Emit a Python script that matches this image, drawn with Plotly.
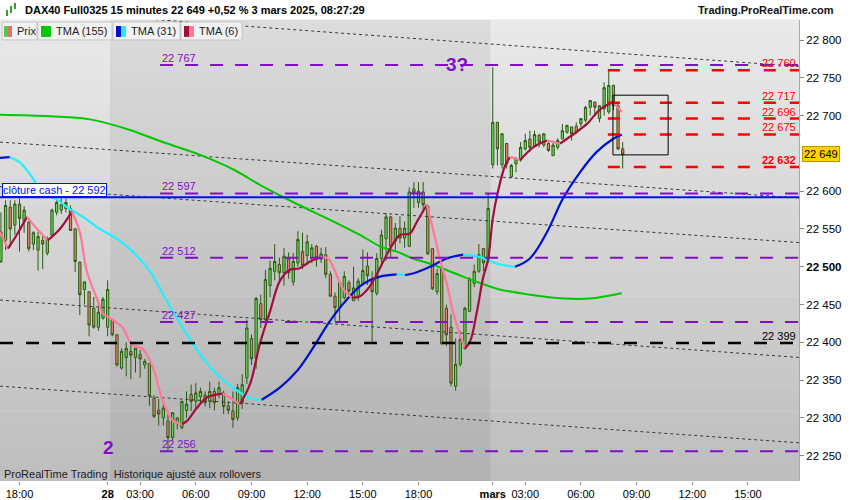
import plotly.graph_objects as go

# 15-minute bars, index 0 = Thu 27 Feb 17:00, index 106 = Mon 3 Mar 01:15
opens = [22507, 22535, 22579, 22555, 22583, 22560, 22559, 22530, 22522, 22535,
         22518, 22542, 22572, 22575, 22577, 22577, 22550, 22506, 22470, 22467,
         22445, 22420, 22432, 22420, 22430, 22410, 22366, 22380, 22388, 22380,
         22384, 22370, 22372, 22326, 22310, 22300, 22296, 22274, 22293, 22287,
         22310, 22331, 22322, 22328, 22330, 22322, 22335, 22331, 22332, 22316,
         22309, 22300, 22320, 22353, 22405, 22379, 22451, 22430, 22475, 22494,
         22503, 22492, 22510, 22480, 22505, 22520, 22515, 22512, 22527, 22510,
         22516, 22490, 22461, 22446, 22459, 22479, 22455, 22460, 22478, 22501,
         22480, 22465, 22511, 22537, 22566, 22534, 22551, 22538, 22527, 22603,
         22585, 22599, 22580, 22524, 22467, 22497, 22445, 22420, 22342, 22371,
         22392, 22441, 22478, 22494, 22524, 22510, 22635, 22691, 22635, 22663,
         22619, 22636, 22643, 22656, 22669, 22660, 22674, 22661, 22663, 22647,
         22658, 22669, 22678, 22685, 22686, 22689, 22694, 22711, 22718, 22696,
         22709, 22705, 22740, 22713, 22656]
highs = [22572, 22588, 22588, 22588, 22590, 22580, 22560, 22547, 22546, 22543,
         22540, 22577, 22588, 22598, 22590, 22581, 22551, 22507, 22480, 22467,
         22460, 22450, 22460, 22482, 22430, 22410, 22392, 22400, 22401, 22392,
         22390, 22378, 22372, 22330, 22325, 22318, 22309, 22307, 22300, 22322,
         22335, 22344, 22346, 22340, 22335, 22348, 22340, 22348, 22336, 22322,
         22335, 22345, 22358, 22430, 22410, 22460, 22463, 22496, 22508, 22530,
         22512, 22525, 22519, 22518, 22547, 22545, 22542, 22530, 22529, 22525,
         22526, 22494, 22466, 22481, 22494, 22482, 22500, 22485, 22523, 22519,
         22494, 22518, 22549, 22571, 22567, 22558, 22567, 22560, 22605, 22612,
         22612, 22612, 22582, 22524, 22497, 22498, 22450, 22437, 22405, 22415,
         22447, 22486, 22503, 22530, 22525, 22597, 22764, 22692, 22676, 22664,
         22636, 22645, 22665, 22676, 22680, 22680, 22676, 22676, 22665, 22667,
         22670, 22689, 22688, 22685, 22691, 22696, 22713, 22720, 22718, 22714,
         22744, 22760, 22741, 22716, 22665]
lows = [22505, 22522, 22526, 22542, 22520, 22545, 22520, 22522, 22495, 22497,
        22515, 22540, 22568, 22570, 22572, 22548, 22493, 22436, 22450, 22408,
        22418, 22415, 22430, 22408, 22408, 22368, 22364, 22355, 22351, 22360,
        22353, 22365, 22316, 22300, 22290, 22290, 22257, 22270, 22285, 22285,
        22300, 22309, 22313, 22320, 22315, 22313, 22310, 22326, 22305, 22305,
        22287, 22296, 22312, 22345, 22370, 22365, 22419, 22425, 22460, 22482,
        22480, 22475, 22484, 22475, 22500, 22497, 22502, 22505, 22500, 22505,
        22485, 22461, 22428, 22428, 22457, 22462, 22455, 22455, 22476, 22476,
        22401, 22462, 22505, 22508, 22512, 22520, 22531, 22525, 22527, 22578,
        22578, 22573, 22516, 22469, 22463, 22397, 22395, 22342, 22336, 22368,
        22390, 22440, 22473, 22492, 22494, 22505, 22630, 22634, 22630, 22630,
        22618, 22625, 22639, 22654, 22652, 22658, 22658, 22658, 22652, 22647,
        22655, 22669, 22676, 22667, 22676, 22685, 22691, 22700, 22700, 22691,
        22700, 22702, 22707, 22654, 22630]
closes = [22546, 22581, 22550, 22583, 22564, 22575, 22524, 22545, 22540, 22530,
          22537, 22575, 22585, 22582, 22585, 22548, 22507, 22463, 22480, 22423,
          22420, 22440, 22457, 22470, 22410, 22370, 22388, 22392, 22383, 22392,
          22378, 22375, 22329, 22302, 22305, 22313, 22274, 22307, 22300, 22322,
          22318, 22322, 22333, 22335, 22320, 22335, 22320, 22340, 22315, 22310,
          22298, 22340, 22344, 22419, 22378, 22458, 22430, 22483, 22498, 22507,
          22492, 22514, 22492, 22507, 22536, 22502, 22533, 22525, 22512, 22517,
          22490, 22461, 22446, 22479, 22487, 22468, 22472, 22481, 22495, 22488,
          22467, 22511, 22542, 22566, 22527, 22551, 22538, 22551, 22599, 22598,
          22600, 22582, 22517, 22471, 22491, 22398, 22410, 22346, 22371, 22404,
          22445, 22484, 22494, 22516, 22505, 22577, 22691, 22656, 22676, 22636,
          22634, 22643, 22658, 22667, 22658, 22675, 22665, 22676, 22654, 22661,
          22667, 22680, 22687, 22676, 22678, 22696, 22711, 22720, 22711, 22713,
          22737, 22740, 22713, 22656, 22649]
bar_x = list(range(len(closes)))

# moving averages (bar position, price)
tma155_x = [-0.2, 10.6, 19.2, 27.8, 34.9, 42.9, 50.0, 53.7, 56.5, 63.8, 70.9,
            78.0, 81.7, 85.3, 88.8, 92.5, 99.6, 106.9, 114.0, 121.5, 126.9, 133.8]
tma155_y = [22701, 22699, 22695, 22681, 22665, 22648, 22629, 22616, 22606, 22583,
            22562, 22540, 22527, 22520, 22511, 22504, 22487, 22471, 22463, 22458,
            22458, 22465]
tma31_x = [-0.2, 1.9, 4.1, 6.3, 9.1, 12.1, 14.2, 17.7, 21.3, 25.0, 28.4, 32.1,
           35.8, 39.2, 42.9, 46.5, 50.0, 53.7, 56.2, 60.1, 63.8, 67.2, 70.9,
           74.6, 78.0, 81.7, 85.3, 87.1, 88.8, 92.5, 96.1, 99.6, 103.2, 106.9,
           110.8, 114.0, 117.7, 121.1, 124.8, 128.4, 131.9, 133.8]
tma31_y = [22644, 22645, 22638, 22622, 22599, 22589, 22579, 22566, 22550, 22537,
           22520, 22494, 22454, 22419, 22384, 22358, 22340, 22326, 22324, 22340,
           22362, 22392, 22428, 22457, 22477, 22487, 22490, 22489, 22491, 22500,
           22511, 22516, 22513, 22504, 22500, 22511, 22546, 22590, 22625, 22652,
           22669, 22675]
tma6_x = [-0.2, 1.5, 3.4, 5.6, 7.8, 10.1, 12.7, 15.3, 17.0, 18.5, 20.7, 22.0,
          24.1, 26.3, 28.2, 30.6, 32.8, 34.9, 37.1, 39.0, 40.1, 42.2, 44.4,
          47.8, 49.8, 51.5, 53.7, 55.8, 58.0, 60.1, 62.3, 64.4, 66.6, 68.8,
          70.5, 72.0, 73.7, 75.6, 77.4, 79.5, 83.8, 86.0, 88.1, 89.7, 91.8,
          93.1, 94.6, 96.1, 97.4, 98.9, 100.0, 101.1, 102.6, 103.9, 105.0,
          106.0, 107.1, 108.6, 109.7, 111.0, 111.9, 114.7, 117.7, 120.5, 123.3,
          126.3, 129.1, 131.9, 133.8]
tma6_y = [22546, 22524, 22542, 22566, 22550, 22535, 22550, 22573, 22546, 22494,
          22458, 22438, 22430, 22419, 22397, 22391, 22366, 22322, 22296, 22292,
          22296, 22313, 22327, 22332, 22325, 22318, 22345, 22398, 22441, 22481,
          22496, 22498, 22507, 22512, 22511, 22494, 22471, 22459, 22461, 22474,
          22523, 22542, 22544, 22560, 22582, 22550, 22511, 22477, 22441, 22411,
          22392, 22401, 22441, 22485, 22510, 22564, 22599, 22633, 22645, 22643,
          22641, 22658, 22667, 22663, 22675, 22689, 22708, 22718, 22705]

# drawn levels
purple_levels = [22767, 22597, 22512, 22427, 22256]
red_levels = [22760, 22717, 22696, 22675, 22632]
support_level = 22399
cloture_cash = 22592
last_price = 22649
box_low, box_high = 22648, 22727
# regression channel lines: price at left edge and at right edge
trend_left = [22842, 22665, 22606, 22456, 22342]
trend_right = [22765, 22591, 22532, 22380, 22267]

y_ticks = [22250, 22300, 22350, 22400, 22450, 22500, 22550, 22600, 22700, 22750, 22800]
x_tickvals = [4, 23, 30, 42, 54, 66, 78, 90, 106, 113, 125, 137, 149, 161]
x_ticktext = ["18:00", "<b>28</b>", "03:00", "06:00", "09:00", "12:00", "15:00",
              "18:00", "<b>mars</b>", "03:00", "06:00", "09:00", "12:00", "15:00"]

X_MIN, X_MAX = -0.2, 172.0
Y_MIN, Y_MAX = 22216.5, 22826.5
FONT = "Liberation Sans, Arial, sans-serif"
PURPLE = "#8010c8"


def px2x(px):
    return px / 799


def py2y(py):
    return (483 - py) / 463


def fmt(v):
    return f"{v:,}".replace(",", " ")


def add_colored(fig, xs, ys, up, down, width):
    seg_x, seg_y = [xs[0]], [ys[0]]
    rising = ys[1] >= ys[0]
    for k in range(1, len(xs)):
        r = ys[k] >= ys[k - 1]
        if r != rising and k > 1:
            fig.add_trace(go.Scatter(x=seg_x, y=seg_y, mode="lines", hoverinfo="skip",
                                     line=dict(color=up if rising else down, width=width, shape="spline")))
            seg_x, seg_y = [xs[k - 1]], [ys[k - 1]]
            rising = r
        seg_x.append(xs[k])
        seg_y.append(ys[k])
    fig.add_trace(go.Scatter(x=seg_x, y=seg_y, mode="lines", hoverinfo="skip",
                             line=dict(color=up if rising else down, width=width, shape="spline")))


fig = go.Figure()

shapes = []
# grey gradient background
n_bands = 40
for k in range(n_bands):
    g = int(234 - 44 * k / (n_bands - 1))
    shapes.append(dict(type="rect", xref="paper", yref="paper", layer="below",
                       x0=0, x1=1, y0=1 - (k + 1) / n_bands, y1=1 - k / n_bands + 0.001,
                       fillcolor=f"rgb({g},{g},{g})", line=dict(width=0)))
# Friday session shading
shapes.append(dict(type="rect", xref="x", yref="paper", layer="below",
                   x0=23.5, x1=105.5, y0=0, y1=1,
                   fillcolor="rgba(0,0,0,0.06)", line=dict(width=0)))

# channel lines
for a, b in zip(trend_left, trend_right):
    fig.add_trace(go.Scatter(x=[X_MIN, X_MAX], y=[a, b], mode="lines", hoverinfo="skip",
                             line=dict(color="#3a3a3a", width=1, dash="3px,3px")))

fig.add_trace(go.Candlestick(
    x=bar_x, open=opens, high=highs, low=lows, close=closes,
    increasing=dict(fillcolor="#66d95a", line=dict(color="#2b5a12", width=1)),
    decreasing=dict(fillcolor="#e8806e", line=dict(color="#2b5a12", width=1)),
    whiskerwidth=0, hoverinfo="skip"))

fig.add_trace(go.Scatter(x=tma155_x, y=tma155_y, mode="lines", hoverinfo="skip",
                         line=dict(color="#00c800", width=2, shape="spline")))
add_colored(fig, tma31_x, tma31_y, "#0010d0", "#20f0ff", 2.2)
add_colored(fig, tma6_x, tma6_y, "#a0103c", "#ff7898", 2.2)

# horizontal levels
for lv in purple_levels:
    fig.add_trace(go.Scatter(x=[34.3, X_MAX], y=[lv, lv], mode="lines", hoverinfo="skip",
                             line=dict(color=PURPLE, width=2, dash="13px,12px")))
fig.add_trace(go.Scatter(x=[X_MIN, X_MAX], y=[support_level] * 2, mode="lines", hoverinfo="skip",
                         line=dict(color="black", width=2.5, dash="13px,13px")))
fig.add_trace(go.Scatter(x=[X_MIN, X_MAX], y=[cloture_cash] * 2, mode="lines", hoverinfo="skip",
                         line=dict(color="#0010ff", width=2)))
for lv in red_levels:
    fig.add_trace(go.Scatter(x=[130.8, X_MAX], y=[lv, lv], mode="lines", hoverinfo="skip",
                             line=dict(color="#ff0000", width=2.5, dash="12px,14px")))
shapes.append(dict(type="rect", xref="x", yref="y", x0=131.9, x1=143.8,
                   y0=box_low, y1=box_high, line=dict(color="black", width=1)))

# header and legend strip
legend_boxes = [(2, 37), (38, 112), (113, 180), (181, 242)]
for a, b in legend_boxes:
    shapes.append(dict(type="rect", xref="paper", yref="paper", layer="above",
                       x0=px2x(a), x1=px2x(b), y0=py2y(40), y1=py2y(22),
                       fillcolor="#f2f2f2", line=dict(color="#c4c4c4", width=1)))
icons = [(4, 8, "#55c845"), (8, 12, "#e07070"), (41, 51, "#00c800"),
         (116, 121, "#0010d0"), (121, 126, "#20f0ff"),
         (184, 189, "#a0103c"), (189, 194, "#ff7898"),
         (6, 8, "#3c9a28"), (10, 12, "#3c9a28"), (14, 16, "#3c9a28")]
for k, (a, b, c) in enumerate(icons):
    if k < 7:
        y0, y1 = 26, 37
    else:
        y0, y1 = [(10, 16), (6, 13), (3, 9)][k - 7]
    shapes.append(dict(type="rect", xref="paper", yref="paper", layer="above",
                       x0=px2x(a), x1=px2x(b), y0=py2y(y1), y1=py2y(y0),
                       fillcolor=c, line=dict(width=0)))

ann = []
ann.append(dict(x=px2x(23), y=py2y(10), xref="paper", yref="paper", xanchor="left",
                yanchor="middle", showarrow=False,
                text="<b>DAX40 Full0325 15 minutes 22 649 +0,52 % 3 mars 2025, 08:27:29</b>",
                font=dict(size=11, color="black")))
ann.append(dict(x=px2x(836), y=py2y(10), xref="paper", yref="paper", xanchor="right",
                yanchor="middle", showarrow=False, text="<b>Trading.ProRealTime.com</b>",
                font=dict(size=11, color="#111")))
for label, px in [("Prix", 15), ("TMA (155)", 54), ("TMA (31)", 129), ("TMA (6)", 197)]:
    ann.append(dict(x=px2x(px), y=py2y(31), xref="paper", yref="paper", xanchor="left",
                    yanchor="middle", showarrow=False, text=label,
                    font=dict(size=11, color="#222")))
for lv in purple_levels:
    ann.append(dict(x=34.3, y=lv, xref="x", yref="y", xanchor="left", yanchor="bottom",
                    yshift=-1, showarrow=False, text=fmt(lv),
                    font=dict(size=11, color=PURPLE)))
for lv in red_levels:
    label = fmt(lv) if lv != red_levels[-1] else "<b>%s</b>" % fmt(lv)
    ann.append(dict(x=px2x(798), y=lv, xref="paper", yref="y", xanchor="right",
                    yanchor="bottom", yshift=-1, showarrow=False,
                    text=label, font=dict(size=11, color="#ff0000")))
ann.append(dict(x=px2x(798), y=support_level, xref="paper", yref="y", xanchor="right",
                yanchor="bottom", yshift=-1, showarrow=False,
                text=fmt(support_level), font=dict(size=11, color="black")))
ann.append(dict(x=px2x(2), y=cloture_cash, xref="paper", yref="y", xanchor="left",
                yanchor="bottom", yshift=0, showarrow=False, bgcolor="white",
                bordercolor="#0010ff", borderwidth=1, borderpad=0,
                text="clôture cash - " + fmt(cloture_cash),
                font=dict(size=11, color="#0010ff")))
ann.append(dict(x=98.3, y=purple_levels[0], xref="x", yref="y", yanchor="middle",
                showarrow=False, text="<b>3?</b>", font=dict(size=19, color=PURPLE)))
ann.append(dict(x=23.1, y=22261, xref="x", yref="y", yanchor="middle",
                showarrow=False, text="<b>2</b>", font=dict(size=19, color=PURPLE)))
ann.append(dict(x=px2x(2), y=py2y(476), xref="paper", yref="paper", xanchor="left",
                yanchor="middle", showarrow=False,
                text="ProRealTime Trading  Historique ajusté aux rollovers",
                font=dict(size=11, color="#222")))
ann.append(dict(x=1, y=last_price, xref="paper", yref="y", xanchor="left",
                yanchor="middle", xshift=3, showarrow=False, bgcolor="#ffd200",
                bordercolor="#b89400", borderwidth=1, borderpad=1,
                text=fmt(last_price), font=dict(size=11, color="black")))

fig.update_layout(
    width=850, height=500,
    margin=dict(l=0, r=51, t=20, b=17),
    paper_bgcolor="white", plot_bgcolor="rgba(0,0,0,0)",
    showlegend=False,
    font=dict(family=FONT, size=11, color="black"),
    shapes=shapes, annotations=ann,
    xaxis=dict(range=[X_MIN, X_MAX], tickvals=x_tickvals, ticktext=x_ticktext,
               showgrid=False, zeroline=False, showline=False, ticks="outside",
               ticklen=3, tickcolor="#888", rangeslider=dict(visible=False),
               tickfont=dict(size=11)),
    yaxis=dict(range=[Y_MIN, Y_MAX], side="right", tickvals=y_ticks,
               ticktext=[("<b>%s</b>" if v == 22500 else "%s") % fmt(v) for v in y_ticks],
               showgrid=False, zeroline=False, showline=True, linecolor="#a8a8a8",
               ticks="outside", ticklen=4, tickcolor="#888", tickfont=dict(size=11.5)),
)

# page body has a default 8px margin; remove it so the figure fills the window
fig.write_html("out.html", config={"displayModeBar": False},
               post_script="document.body.style.margin='0';"
                           "document.body.style.overflow='hidden';")
